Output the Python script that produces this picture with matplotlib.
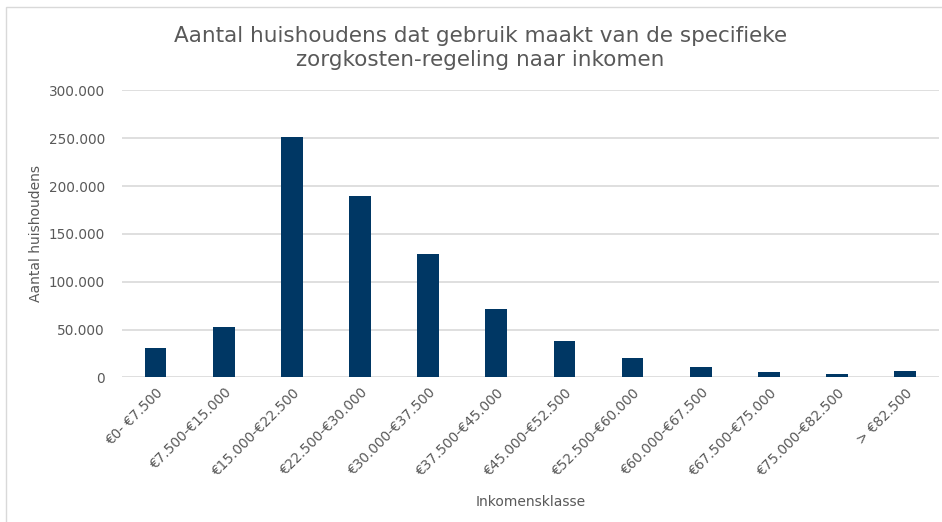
import matplotlib.pyplot as plt
from matplotlib.patches import Rectangle
from matplotlib.ticker import FuncFormatter

klassen = ['€0- €7.500', '€7.500-€15.000', '€15.000-€22.500', '€22.500-€30.000',
           '€30.000-€37.500', '€37.500-€45.000', '€45.000-€52.500', '€52.500-€60.000',
           '€60.000-€67.500', '€67.500-€75.000', '€75.000-€82.500', '> €82.500']
huishoudens = [30500, 53100, 251500, 189400, 129000, 71400, 38000, 20000,
               11000, 6000, 3500, 6500]
y_ticks = [0, 50000, 100000, 150000, 200000, 250000, 300000]

grijs = '#595959'
blauw = '#003764'

fig = plt.figure(figsize=(9.42, 5.22), dpi=100)
ax = fig.add_axes([0.129, 0.277, 0.868, 0.55])

x = range(len(klassen))
ax.bar(x, huishoudens, width=0.32, color=blauw, zorder=3)

ax.set_xlim(-0.5, len(klassen) - 0.5)
ax.set_ylim(0, 300000)
ax.set_yticks(y_ticks)
ax.yaxis.set_major_formatter(FuncFormatter(lambda v, p: '0' if v == 0 else f'{int(v):,}'.replace(',', '.')))
ax.grid(axis='y', color='#d9d9d9', linewidth=1.2, zorder=0)
ax.set_xticks(list(x))
ax.set_xticklabels(klassen, rotation=45, ha='right', rotation_mode='anchor')
ax.tick_params(axis='both', length=0, colors=grijs, labelsize=9.8)
ax.tick_params(axis='y', pad=12)
ax.tick_params(axis='x', pad=6)
for s in ax.spines.values():
    s.set_visible(False)

ax.set_ylabel('Aantal huishoudens', color=grijs, fontsize=10, labelpad=4)
ax.set_xlabel('Inkomensklasse', color=grijs, fontsize=10, labelpad=12)

fig.text(0.51, 0.909, 'Aantal huishoudens dat gebruik maakt van de specifieke\nzorgkosten-regeling naar inkomen',
         ha='center', va='center', fontsize=15.5, color=grijs, linespacing=1.25)

fig.patches.append(Rectangle((0.006, -0.01), 1.2, 0.997, transform=fig.transFigure,
                             fill=False, edgecolor='#d9d9d9', linewidth=1))

fig.savefig('out.png', dpi=100)
